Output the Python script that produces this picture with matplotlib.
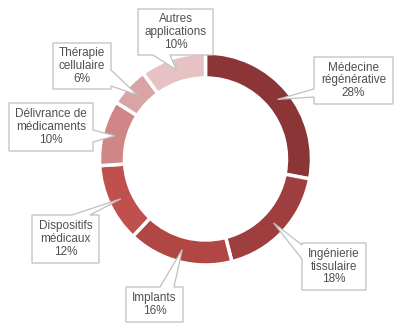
import matplotlib
matplotlib.use("Agg")
import matplotlib.pyplot as plt
import numpy as np
from matplotlib.patches import Polygon

# data
labels = ['Médecine\nrégénérative', 'Ingénierie\ntissulaire', 'Implants',
          'Dispositifs\nmédicaux', 'Délivrance de\nmédicaments',
          'Thérapie\ncellulaire', 'Autres\napplications']
values = [28, 18, 16, 12, 10, 6, 10]
colors = ['#8B3537', '#9E3E3E', '#B14745', '#C0504D', '#D08687', '#D9A4A6', '#E6C2C4']

# callout boxes in screen pixels (x0, y0, x1, y1), side of pointer, base span
boxes = [(314, 57, 393, 104), (302, 243, 366, 290), (126, 287, 183, 322),
         (32, 215, 99, 263), (9, 103, 93, 151), (53, 43, 111, 89), (138, 9, 213, 55)]
sides = ['left', 'left', 'top', 'top', 'right', 'right', 'bottom']
bases = [(89, 97), (245, 259), (160, 174), (72, 90), (130, 142), (70, 86), (153, 170)]

W, H = 403, 328
plt.rcParams['font.family'] = ['Liberation Sans', 'DejaVu Sans']

fig = plt.figure(figsize=(W / 100, H / 100), dpi=100)
ax = fig.add_axes([0, 0, 1, 1])

cx, cy, R, ring = 205.5, H - 159, 106, 25
wedges, _ = ax.pie(values, colors=colors, startangle=90, counterclock=False,
                   center=(cx, cy), radius=R,
                   wedgeprops=dict(width=ring, edgecolor='white', linewidth=2.5))

for w, lab, v, b, side, (a1, a2) in zip(wedges, labels, values, boxes, sides, bases):
    ang = np.deg2rad((w.theta1 + w.theta2) / 2)
    rm = R - ring / 2
    tip = (cx + rm * np.cos(ang), cy + rm * np.sin(ang))
    x0, y0, x1, y1 = b
    # to data coords (y up)
    Y0, Y1 = H - y0, H - y1
    TL, TR, BR, BL = (x0, Y0), (x1, Y0), (x1, Y1), (x0, Y1)
    if side == 'top':
        pts = [TL, (a1, Y0), tip, (a2, Y0), TR, BR, BL]
    elif side == 'right':
        pts = [TL, TR, (x1, H - a1), tip, (x1, H - a2), BR, BL]
    elif side == 'bottom':
        pts = [TL, TR, BR, (a2, Y1), tip, (a1, Y1), BL]
    else:
        pts = [TL, TR, BR, BL, (x0, H - a2), tip, (x0, H - a1)]
    ax.add_patch(Polygon(pts, closed=True, facecolor='white', edgecolor='#BFBFBF',
                         linewidth=0.9, zorder=3))
    ax.text((x0 + x1) / 2, H - (y0 + y1) / 2, f"{lab}\n{v}%", ha='center', va='center',
            fontsize=8.5, color='#505050', linespacing=1.1, zorder=4)

ax.set_xlim(0, W)
ax.set_ylim(0, H)
ax.set_aspect('equal')
ax.axis('off')

fig.savefig('out.png', dpi=100, facecolor='white')
